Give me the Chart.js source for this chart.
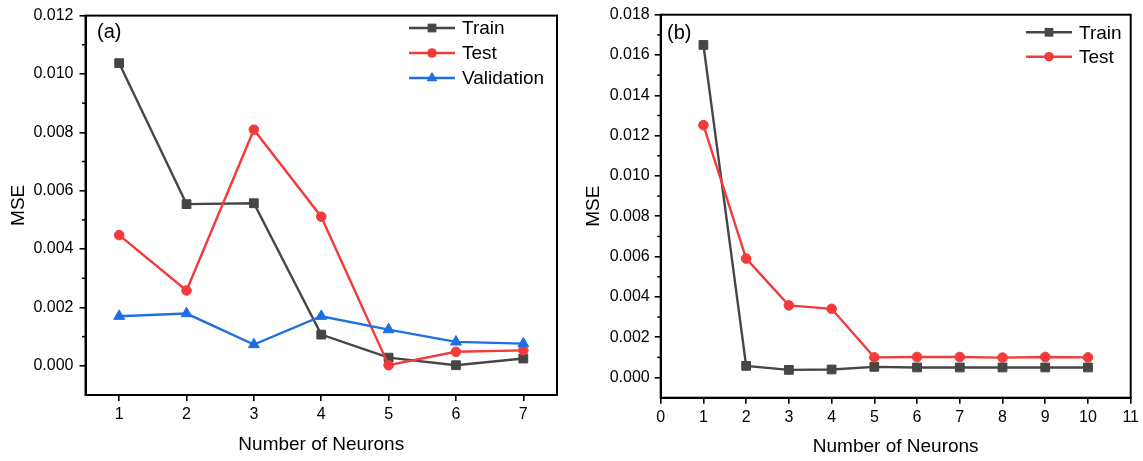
<!DOCTYPE html>
<html>
<head>
<meta charset="utf-8">
<script src="https://cdn.jsdelivr.net/npm/chart.js@4/dist/chart.umd.min.js"></script>
<style>
  html, body { margin: 0; padding: 0; background: #fff; }
  #wrap { position: relative; width: 1143px; height: 461px; }
  .panel { position: absolute; top: 0; }
</style>
</head>
<body>
<div id="wrap">
  <canvas id="chartA" class="panel" width="570" height="461" style="left:0"></canvas>
  <canvas id="chartB" class="panel" width="573" height="461" style="left:570px"></canvas>
</div>
<script>
// panel (a) data
const neuronsA = [1, 2, 3, 4, 5, 6, 7];
const trainA = [0.01037, 0.00554, 0.00557, 0.00107, 0.00028, 0.00002, 0.00025];
const testA = [0.00448, 0.00258, 0.00809, 0.00511, 0.00002, 0.00048, 0.00053];
const validA = [0.00170, 0.00179, 0.00073, 0.00170, 0.00124, 0.00082, 0.00076];
const xTicksA = [1, 2, 3, 4, 5, 6, 7];
const yTicksA = [0, 0.002, 0.004, 0.006, 0.008, 0.010, 0.012];

// panel (b) data
const neuronsB = [1, 2, 3, 4, 5, 6, 7, 8, 9, 10];
const trainB = [0.0165, 0.00058, 0.00038, 0.00040, 0.00053, 0.00050, 0.00050, 0.00050, 0.00050, 0.00050];
const testB = [0.01252, 0.00590, 0.00358, 0.00341, 0.00100, 0.00102, 0.00102, 0.00099, 0.00102, 0.00100];
const xTicksB = [0, 1, 2, 3, 4, 5, 6, 7, 8, 9, 10, 11];
const yTicksB = [0, 0.002, 0.004, 0.006, 0.008, 0.010, 0.012, 0.014, 0.016, 0.018];

const FONT = "'Liberation Sans', Arial, sans-serif";
const GRAY = "#464646";
const RED = "#f23b3b";
const BLUE = "#1f6fe3";

function pts(xs, ys) {
  return xs.map((x, i) => ({ x: x, y: ys[i] }));
}

function series(label, xs, ys, color, style, radius, order) {
  return {
    label: label,
    data: pts(xs, ys),
    borderColor: color,
    backgroundColor: color,
    pointBackgroundColor: color,
    pointBorderColor: color,
    pointStyle: style,
    pointRadius: radius,
    pointBorderWidth: 1,
    borderWidth: 2.4,
    tension: 0,
    order: order,
  };
}

function marker(ctx, style, x, y, r) {
  ctx.beginPath();
  if (style === "rect") {
    const s = r * Math.SQRT1_2;
    ctx.rect(x - s, y - s, 2 * s, 2 * s);
  } else if (style === "triangle") {
    ctx.moveTo(x, y - r);
    ctx.lineTo(x + r * 0.866, y + r * 0.5);
    ctx.lineTo(x - r * 0.866, y + r * 0.5);
    ctx.closePath();
  } else {
    ctx.arc(x, y, r, 0, Math.PI * 2);
  }
  ctx.fill();
}

// box, minor ticks, panel letter and legend
const decor = {
  id: "decor",
  afterDraw(chart, args, opts) {
    const ctx = chart.ctx;
    const a = chart.chartArea;
    const ys = chart.scales.y;
    ctx.save();
    ctx.strokeStyle = "#000";
    ctx.lineWidth = 2;
    ctx.strokeRect(a.left, a.top, a.right - a.left, a.bottom - a.top);

    // minor ticks halfway between the labelled ones
    ctx.lineWidth = 1.5;
    const majors = opts.yTicks;
    for (let i = 0; i < majors.length - 1; i++) {
      const py = ys.getPixelForValue((majors[i] + majors[i + 1]) / 2);
      ctx.beginPath();
      ctx.moveTo(a.left - 3.5, py);
      ctx.lineTo(a.left, py);
      ctx.stroke();
    }

    ctx.fillStyle = "#000";
    ctx.font = "20px " + FONT;
    ctx.textBaseline = "middle";
    ctx.textAlign = "left";
    ctx.fillText(opts.letter, opts.letterX, opts.letterY);

    const lg = opts.legend;
    chart.data.datasets.forEach((ds, i) => {
      const y = lg.y + i * lg.gap;
      ctx.strokeStyle = ds.borderColor;
      ctx.lineWidth = 2.4;
      ctx.beginPath();
      ctx.moveTo(lg.x, y);
      ctx.lineTo(lg.x + 46, y);
      ctx.stroke();
      ctx.fillStyle = ds.borderColor;
      marker(ctx, ds.pointStyle, lg.x + 23, y, ds.pointRadius);
      ctx.fillStyle = "#000";
      ctx.font = "19px " + FONT;
      ctx.fillText(ds.label, lg.x + 53, y + 1);
    });
    ctx.restore();
  },
};

function makeChart(id, datasets, cfg) {
  return new Chart(document.getElementById(id), {
    type: "line",
    data: { datasets: datasets },
    plugins: [decor],
    options: {
      responsive: false,
      animation: false,
      events: [],
      layout: { padding: { top: cfg.padTop, right: cfg.padRight, left: 0, bottom: 0 } },
      plugins: {
        legend: { display: false },
        tooltip: { enabled: false },
        decor: {
          yTicks: cfg.yTicks,
          letter: cfg.letter,
          letterX: cfg.letterX,
          letterY: cfg.letterY,
          legend: cfg.legend,
        },
      },
      scales: {
        x: {
          type: "linear",
          min: cfg.xMin,
          max: cfg.xMax,
          afterBuildTicks: (s) => { s.ticks = cfg.xTicks.map((v) => ({ value: v })); },
          afterFit: (s) => { s.height = cfg.xHeight; },
          border: { display: true, color: "#000", width: 2 },
          grid: { drawOnChartArea: false, drawTicks: true, tickLength: 6, color: "#000", lineWidth: 1.6 },
          ticks: { color: "#000", padding: 4, font: { family: FONT, size: 16 }, maxRotation: 0, autoSkip: false,
                   callback: (v) => String(v) },
          title: { display: true, text: "Number of Neurons", color: "#000",
                   font: { family: FONT, size: 19 }, padding: { top: 0, bottom: cfg.xTitlePad } },
        },
        y: {
          type: "linear",
          min: cfg.yMin,
          max: cfg.yMax,
          afterBuildTicks: (s) => { s.ticks = cfg.yTicks.map((v) => ({ value: v })); },
          afterFit: (s) => { s.width = cfg.yWidth; },
          border: { display: true, color: "#000", width: 2 },
          grid: { drawOnChartArea: false, drawTicks: true, tickLength: 6, color: "#000", lineWidth: 1.6 },
          ticks: { color: "#000", padding: cfg.yTickPad, font: { family: FONT, size: 16 }, autoSkip: false,
                   callback: (v) => Number(v).toFixed(3) },
          title: { display: true, text: "MSE", color: "#000",
                   font: { family: FONT, size: 19 }, padding: { top: cfg.yTitlePad, bottom: 0 } },
        },
      },
    },
  });
}

makeChart("chartA", [
  series("Train", neuronsA, trainA, GRAY, "rect", 6.2, 3),
  series("Test", neuronsA, testA, RED, "circle", 4.8, 2),
  series("Validation", neuronsA, validA, BLUE, "triangle", 6.3, 1),
], {
  xMin: 0.5, xMax: 7.5, yMin: -0.001, yMax: 0.012,
  xTicks: xTicksA, yTicks: yTicksA,
  padTop: 12, padRight: 13, xHeight: 66, yWidth: 85.5,
  yTickPad: 6, xTitlePad: 5, yTitlePad: 7,
  letter: "(a)", letterX: 97, letterY: 32,
  legend: { x: 409, y: 28, gap: 25 },
});

makeChart("chartB", [
  series("Train", neuronsB, trainB, GRAY, "rect", 6.2, 2),
  series("Test", neuronsB, testB, RED, "circle", 4.8, 1),
], {
  xMin: 0, xMax: 11, yMin: -0.001, yMax: 0.018,
  xTicks: xTicksB, yTicks: yTicksB,
  padTop: 14.7, padRight: 10.3, xHeight: 63.3, yWidth: 90.7,
  yTickPad: 5, xTitlePad: 3, yTitlePad: 12,
  letter: "(b)", letterX: 97, letterY: 33,
  legend: { x: 456, y: 32.3, gap: 24.4 },
});
</script>
</body>
</html>
